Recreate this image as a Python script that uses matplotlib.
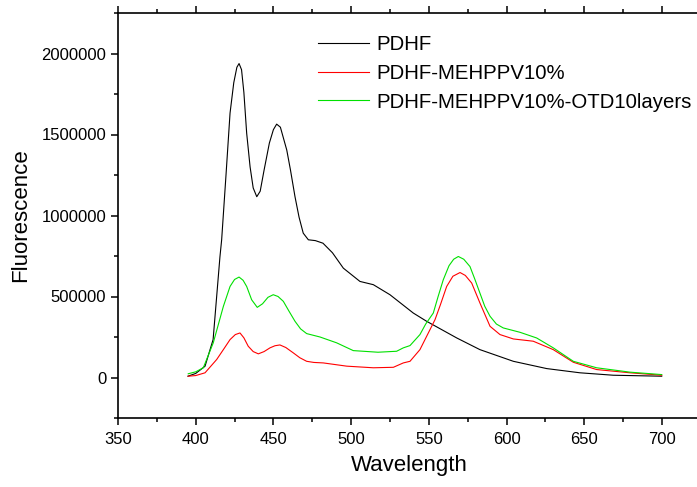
import matplotlib.pyplot as plt
from matplotlib.ticker import MultipleLocator, FormatStrFormatter

plt.rcParams['font.family'] = ['Liberation Sans', 'DejaVu Sans']

# PDHF (black)
wl_pdhf = [395.0, 400.0, 406.0, 411.2, 415.6, 416.7, 419.5, 422.1, 424.5, 426.5, 427.9, 429.5,
           431.0, 432.8, 435.0, 437.0, 439.3, 441.5, 444.0, 447.4, 450.0, 452.1, 454.5,
           458.6, 461.0, 463.9, 466.5, 469.2, 472.5, 477.0, 481.9, 488.0, 495.0, 505.7,
           514.3, 525.0, 540.0, 548.6, 568.0, 582.9, 604.4, 625.9, 647.3, 668.7, 699.9]
fl_pdhf = [8000, 25000, 69600, 234000, 745000, 850000, 1250000, 1632000, 1820000, 1915000,
           1938000, 1900000, 1760000, 1508000, 1300000, 1170000, 1116000, 1150000, 1280000,
           1447000, 1530000, 1564000, 1545000, 1404000, 1280000, 1116000, 990000, 891000,
           850000, 845000, 829000, 770000, 675000, 593000, 573000, 511000, 398000, 347000,
           244000, 172000, 100000, 55000, 29000, 14000, 8000]

# PDHF-MEHPPV10% (red)
wl_meh = [395.2, 400.0, 406.0, 413.5, 418.0, 422.1, 425.5, 428.5, 431.0, 433.8, 437.0,
          440.3, 444.0, 447.8, 451.0, 454.2, 458.0, 462.8, 467.0, 471.4, 476.0, 482.1,
          497.2, 514.3, 527.2, 533.6, 537.9, 544.3, 550.8, 554.0, 557.5, 561.5, 565.5,
          570.1, 573.5, 577.6, 582.9, 589.4, 595.8, 604.4, 617.2, 630.1, 643.0, 658.0,
          679.5, 699.9]
fl_meh = [8000, 12000, 29000, 111000, 175000, 234000, 265000, 275000, 245000, 193000, 160000,
          146000, 160000, 183000, 196000, 201000, 185000, 152000, 122000, 100000, 93000,
          90000, 70000, 60000, 63000, 90000, 100000, 172000, 296000, 357000, 450000, 562000,
          625000, 648000, 630000, 583000, 460000, 316000, 265000, 238000, 224000, 172000,
          94000, 49000, 29000, 14000]

# PDHF-MEHPPV10%-OTD10layers (green)
wl_otd = [395.2, 400.0, 404.9, 411.3, 417.8, 422.1, 425.0, 427.9, 430.5, 432.8, 436.0,
          439.6, 443.0, 446.5, 449.9, 453.0, 456.4, 460.0, 463.9, 467.5, 471.4, 480.0,
          490.7, 501.4, 517.3, 529.3, 533.6, 537.9, 544.3, 548.0, 552.9, 556.0, 559.3,
          563.0, 566.0, 569.0, 572.5, 576.5, 579.5, 582.9, 586.0, 589.4, 593.5, 597.9,
          608.7, 619.4, 630.1, 643.0, 658.0, 679.5, 699.9]
fl_otd = [23000, 35000, 60000, 214000, 439000, 562000, 605000, 620000, 600000, 562000, 480000,
          433000, 455000, 495000, 511000, 500000, 470000, 410000, 347000, 300000, 271000,
          250000, 214000, 166000, 156000, 162000, 183000, 197000, 265000, 330000, 398000,
          500000, 603000, 690000, 730000, 747000, 730000, 685000, 610000, 521000, 440000,
          378000, 330000, 306000, 279000, 244000, 183000, 100000, 60000, 33000, 18000]

fig = plt.figure(figsize=(6.97, 4.87), dpi=100)
ax = fig.add_axes([118 / 697, 69 / 487, 582.75 / 697, 405 / 487])

ax.plot(wl_pdhf, fl_pdhf, color='black', lw=0.8, label='PDHF')
ax.plot(wl_meh, fl_meh, color='red', lw=0.8, label='PDHF-MEHPPV10%')
ax.plot(wl_otd, fl_otd, color='#00e000', lw=0.8, label='PDHF-MEHPPV10%-OTD10layers')

ax.set_xlim(350, 725)
ax.set_ylim(-250000, 2250000)
ax.xaxis.set_major_locator(MultipleLocator(50))
ax.xaxis.set_minor_locator(MultipleLocator(25))
ax.yaxis.set_major_locator(MultipleLocator(500000))
ax.yaxis.set_minor_locator(MultipleLocator(250000))
ax.yaxis.set_major_formatter(FormatStrFormatter('%d'))
ax.tick_params(which='both', direction='out', width=1.1, labelsize=12, top=False, right=False)
ax.tick_params(which='major', length=5)
ax.tick_params(which='minor', length=3)
ax.tick_params(axis='x', which='both', top=True, labeltop=False, pad=5)
for s in ax.spines.values():
    s.set_linewidth(1.2)
ax.spines['right'].set_visible(False)

ax.set_xlabel('Wavelength', fontsize=16, labelpad=6)
ax.set_ylabel('Fluorescence', fontsize=16, labelpad=7)

ax.legend(loc='upper left', bbox_to_anchor=(318 / 697, 1 - 35 / 487), bbox_transform=fig.transFigure,
          frameon=False, fontsize=14.7, handlelength=2.5, handletextpad=0.35, labelspacing=0.48,
          borderpad=0, borderaxespad=0)

fig.savefig('out.png', dpi=100)
